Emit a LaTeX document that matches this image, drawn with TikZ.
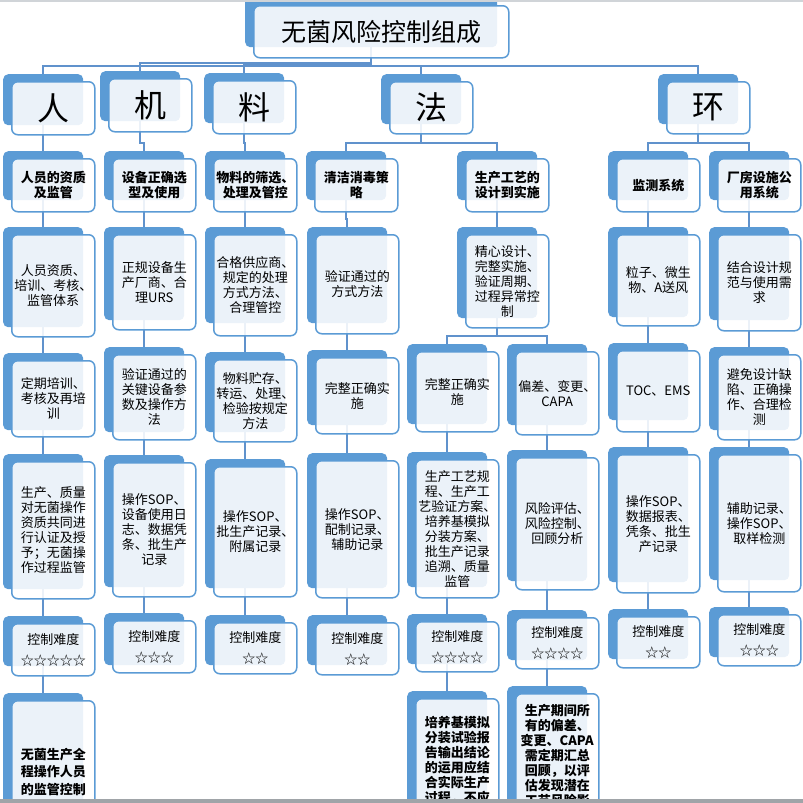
\documentclass[tikz,border=0pt]{standalone}
\usepackage{fontspec}
\setmainfont{Noto Sans CJK SC}
\usetikzlibrary{backgrounds}
\definecolor{smartblue}{RGB}{91,155,213}
\definecolor{linkblue}{RGB}{96,146,204}
\definecolor{topgray}{RGB}{208,212,216}
\definecolor{bargray}{RGB}{160,164,168}
\tikzset{
    % solid blue back plate
    backbox/.style={
        rectangle, rounded corners=5pt, fill=smartblue,
        anchor=north west, minimum width=80pt, inner sep=0pt
    },
    % see-through front card with blue rim
    frontbox/.style={
        rectangle, rounded corners=6pt, draw=smartblue, line width=1.5pt,
        fill=white, fill opacity=0.88, text opacity=1,
        anchor=north west, minimum width=83pt, inner sep=0pt,
        align=center, font=\fontsize{13}{15}\selectfont
    },
    % text variants
    boldbox/.style={font=\fontsize{13}{15}\selectfont\bfseries},
    bigbox/.style={font=\fontsize{32}{34}\selectfont},
    tallbox/.style={font=\fontsize{13}{17.5}\selectfont\bfseries},
    % connectors
    linkline/.style={draw=linkblue, line width=1.8pt},
}
% back plate + front card
\newcommand{\cardbox}[7][]{%
  \node[backbox, minimum height=#5] (#2-b) at (#3,#4) {};
  \node[frontbox, minimum height=#6, #1] (#2) at (#3+8,#4+7) {#7};}
% elbow connector parent -> child
\newcommand{\linkup}[2]{\draw[linkline] (#2-b.north) -- ++(0,-8) -| (#1-b.south);}

\begin{document}
\begin{tikzpicture}[x=1pt,y=-1pt]
  \useasboundingbox (0,0) rectangle (803,803);
  \clip (0,0) rectangle (803,803);

  % title
  \node[backbox, minimum width=252pt, minimum height=52pt] (title-b) at (245,-5) {};
  \node[frontbox, minimum width=255pt, minimum height=52pt,
        font=\fontsize{25}{27}\selectfont] (title) at (253,5) {无菌风险控制组成};

  % level 1
  \cardbox[bigbox]{ren}{3}{74}{51}{53}{人}
  \cardbox[bigbox]{ji}{100}{71}{50}{53}{机}
  \cardbox[bigbox]{liao}{204}{73}{50}{53}{料}
  \cardbox[bigbox]{fa}{381}{74}{50}{52}{法}
  \cardbox[bigbox]{huan}{658}{74}{50}{52}{环}

  % level 2
  \cardbox[boldbox]{ren2}{3}{151}{49}{53}{人员的资质\\及监管}
  \cardbox[boldbox]{ji2}{104}{151}{49}{53}{设备正确选\\型及使用}
  \cardbox[boldbox]{liao2}{205}{151}{49}{53}{物料的筛选、\\处理及管控}
  \cardbox[boldbox]{qj2}{306}{151}{49}{53}{清洁消毒策\\略}
  \cardbox[boldbox]{gy2}{457}{151}{49}{53}{生产工艺的\\设计到实施}
  \cardbox[boldbox]{jc2}{608}{151}{49}{53}{监测系统}
  \cardbox[boldbox]{cf2}{709}{151}{49}{53}{厂房设施公\\用系统}

  % level 3
  \cardbox{ren3}{3}{227}{100}{102}{人员资质、\\培训、考核、\\监管体系}
  \cardbox{ji3}{104}{227}{93}{95}{正规设备生\\产厂商、合\\理URS}
  \cardbox{liao3}{205}{227}{96}{101}{合格供应商、\\规定的处理\\方式方法、\\合理管控}
  \cardbox{qj3}{307}{227}{96}{99}{验证通过的\\方式方法}
  \cardbox{gy3}{457}{227}{91}{93}{精心设计、\\完整实施、\\验证周期、\\过程异常控\\制}
  \cardbox{jc3}{608}{227}{90}{91}{粒子、微生\\物、A送风}
  \cardbox{cf3}{709}{227}{93}{96}{结合设计规\\范与使用需\\求}

  % level 4
  \cardbox{ren4}{3}{353}{77}{76}{定期培训、\\考核及再培\\训}
  \cardbox{ji4}{104}{347}{85}{85}{验证通过的\\关键设备参\\数及操作方\\法}
  \cardbox{liao4}{205}{352}{80}{82}{物料贮存、\\转运、处理、\\检验按规定\\方法}
  \cardbox{qj4}{307}{350}{75}{76}{完整正确实\\施}
  \cardbox{gyA4}{407}{344}{80}{80}{完整正确实\\施}
  \cardbox{gyB4}{507}{344}{81}{83}{偏差、变更、\\CAPA}
  \cardbox{jc4}{608}{343}{77}{81}{TOC、EMS}
  \cardbox{cf4}{709}{347}{83}{85}{避免设计缺\\陷、正确操\\作、合理检\\测}

  % level 5
  \cardbox{ren5}{3}{454}{135}{137}{生产、质量\\对无菌操作\\资质共同进\\行认证及授\\予；无菌操\\作过程监管}
  \cardbox{ji5}{104}{455}{132}{134}{操作SOP、\\设备使用日\\志、数据凭\\条、批生产\\记录}
  \cardbox{liao5}{205}{459}{129}{130}{操作SOP、\\批生产记录、\\附属记录}
  \cardbox{qj5}{307}{453}{135}{137}{操作SOP、\\配制记录、\\辅助记录}
  \cardbox{gyA5}{407}{452}{135}{138}{生产工艺规\\程、生产工\\艺验证方案、\\培养基模拟\\分装方案、\\批生产记录\\追溯、质量\\监管}
  \cardbox{gyB5}{507}{450}{131}{132}{风险评估、\\风险控制、\\回顾分析}
  \cardbox{jc5}{608}{447}{135}{138}{操作SOP、\\数据报表、\\凭条、批生\\产记录}
  \cardbox{cf5}{709}{447}{133}{137}{辅助记录、\\操作SOP、\\取样检测}

  % level 6: control difficulty
  \cardbox{ren6}{3}{616}{50}{52}{控制难度\\[6pt]☆☆☆☆☆}
  \cardbox{ji6}{104}{613}{52}{52}{控制难度\\[6pt]☆☆☆}
  \cardbox{liao6}{205}{615}{50}{51}{控制难度\\[6pt]☆☆}
  \cardbox{qj6}{307}{615}{50}{52}{控制难度\\[6pt]☆☆}
  \cardbox{gyA6}{407}{614}{50}{50}{控制难度\\[6pt]☆☆☆☆}
  \cardbox{gyB6}{507}{610}{50}{51}{控制难度\\[6pt]☆☆☆☆}
  \cardbox{jc6}{608}{609}{50}{51}{控制难度\\[6pt]☆☆}
  \cardbox{cf6}{709}{607}{50}{51}{控制难度\\[6pt]☆☆☆}

  % level 7 (runs off the page)
  \cardbox[tallbox]{ren7}{3}{693}{156}{160}{无菌生产全\\程操作人员\\的监管控制\\难度最大}
  \cardbox[boldbox]{gyA7}{407}{691}{120}{123}{培养基模拟\\分装试验报\\告输出结论\\的运用应结\\合实际生产\\过程，不应}
  \cardbox[boldbox]{gyB7}{507}{686}{120}{124}{生产期间所\\有的偏差、\\变更、CAPA\\需定期汇总\\回顾，以评\\估发现潜在\\工艺风险影}

  % connectors
  \begin{scope}[on background layer]
    \foreach \c in {ren,ji,liao,fa,huan} {\linkup{title}{\c}}
    \linkup{ren}{ren2} \linkup{ji}{ji2} \linkup{liao}{liao2}
    \linkup{fa}{qj2} \linkup{fa}{gy2}
    \linkup{huan}{jc2} \linkup{huan}{cf2}
    \foreach \c in {ren,ji,liao,qj,gy,jc,cf} {\linkup{\c2}{\c3}}
    \foreach \c in {ren,ji,liao,qj,jc,cf} {\linkup{\c3}{\c4}}
    \linkup{gy3}{gyA4} \linkup{gy3}{gyB4}
    \foreach \c in {ren,ji,liao,qj,gyA,gyB,jc,cf} {\linkup{\c4}{\c5} \linkup{\c5}{\c6}}
    \foreach \c in {ren,gyA,gyB} {\linkup{\c6}{\c7}}
  \end{scope}

  % window edges
  \fill[topgray] (0,0) rectangle (803,2);
  \fill[bargray] (0,799) rectangle (803,803);
\end{tikzpicture}
\end{document}
